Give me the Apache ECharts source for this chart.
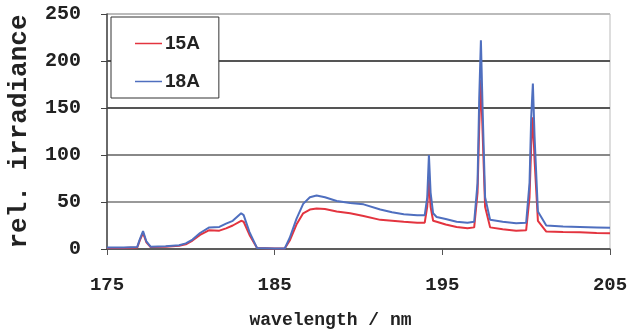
<!DOCTYPE html>
<html>
<head>
<meta charset="utf-8">
<script src="https://cdn.jsdelivr.net/npm/echarts@6/dist/echarts.min.js"></script>
<style>
  html, body { margin: 0; padding: 0; background: #fff; }
  #chart { width: 639px; height: 329px; }
</style>
</head>
<body>
<div id="chart"></div>
<script>
// wavelength (nm) sample points
const wavelength = [
  175.0, 176.0, 176.8, 176.95, 177.15, 177.35, 177.6, 178.5, 179.3, 179.7,
  180.1, 180.55, 181.1, 181.7, 182.1, 182.5, 183.0, 183.15, 183.5, 183.95,
  185.0, 185.6, 185.9, 186.3, 186.7, 187.1, 187.5, 188.0, 188.7, 189.5,
  190.3, 191.3, 192.0, 192.7, 193.5, 193.95, 194.1, 194.2, 194.3, 194.45,
  194.66, 195.2, 195.85, 196.5, 196.9, 197.1, 197.2, 197.3, 197.4, 197.55,
  197.85, 198.6, 199.4, 200.0, 200.2, 200.3, 200.4, 200.5, 200.7, 201.2,
  202.2, 203.2, 204.2, 205.0
];
const irr15A = [
  1, 1, 1.5, 9, 17, 7, 2, 2.5, 3.5, 5,
  9, 15, 20, 19.5, 22, 25, 30, 29, 15, 1,
  0.5, 0.5, 9, 26, 38, 42, 43, 42.5, 40, 38,
  35, 31, 30, 29, 28, 28, 45, 74, 45, 30,
  29, 26, 23.5, 22, 23, 60, 130, 180, 125, 45,
  23, 21, 19.5, 20, 55, 110, 140, 95, 30, 18.5,
  18, 17.8, 17, 16.8
];
const irr18A = [
  1.5, 1.5, 2, 10, 19, 8, 2.5, 3, 4, 6,
  10, 17, 23, 23.5, 27, 30, 38, 36, 18, 1,
  0.5, 0.5, 12, 32, 48, 55, 57, 55, 51, 49,
  47.5, 42, 39, 37, 36, 36, 55, 100, 60, 38,
  34, 32, 29, 28, 29, 70, 160, 222, 150, 55,
  31, 29, 27.5, 28, 70, 140, 176, 120, 40, 25,
  24, 23.5, 23, 22.5
];
const xTicks = [175, 185, 195, 205];
const seriesNames = ['15A', '18A'];

const monoFont = { fontFamily: 'Liberation Mono', fontWeight: 'bold', color: '#222' };

const myChart = echarts.init(document.getElementById('chart'));
const option = {
  animation: false,
  color: ['#e3343f', '#4f6fbf'],
  grid: {
    left: 107, right: 29, top: 14, bottom: 80,
    outerBoundsMode: 'none',
    show: true, borderColor: '#bbb', borderWidth: 1
  },
  legend: {
    orient: 'vertical',
    left: 111, top: 17,
    padding: [17, 19, 7, 24],
    itemGap: 19,
    itemWidth: 27, itemHeight: 14,
    // thin line icon; the move-to points keep the full box height
    icon: 'path://M0,0 M0,14 M0,6.25 L27,6.25 L27,7.75 L0,7.75 Z',
    backgroundColor: '#fff',
    borderColor: '#333', borderWidth: 1,
    textStyle: { fontFamily: 'Liberation Sans', fontWeight: 'bold', fontSize: 19, color: '#222', padding: [0, 0, 0, -2] },
    data: seriesNames
  },
  xAxis: {
    type: 'value',
    min: 175, max: 205,
    name: 'wavelength / nm',
    nameLocation: 'middle',
    nameGap: 62,
    nameTextStyle: Object.assign({ fontSize: 18, padding: [0, 56, 0, 0] }, monoFont),
    axisLine: { show: true, lineStyle: { color: '#555', width: 1.5 } },
    axisTick: { show: true, length: 6, customValues: xTicks, lineStyle: { color: '#555' } },
    axisLabel: Object.assign({ fontSize: 19, margin: 27, customValues: xTicks }, monoFont),
    splitLine: { show: false }
  },
  yAxis: {
    type: 'value',
    min: 0, max: 250, interval: 50,
    name: 'rel. irradiance',
    nameLocation: 'middle',
    nameGap: 75,
    nameRotate: 90,
    nameTextStyle: Object.assign({ fontSize: 26 }, monoFont),
    axisLine: { show: true, lineStyle: { color: '#444', width: 1.5 } },
    axisTick: { show: true, length: 6, lineStyle: { color: '#444' } },
    axisLabel: Object.assign({ fontSize: 20, margin: 26 }, monoFont),
    splitLine: {
      show: true,
      lineStyle: { width: 2, color: ['#777', '#999', '#888', '#555', '#555', '#bbb'] }
    }
  },
  series: [
    {
      name: seriesNames[0],
      type: 'line',
      symbol: 'none',
      lineStyle: { width: 2 },
      data: wavelength.map((w, i) => [w, irr15A[i]])
    },
    {
      name: seriesNames[1],
      type: 'line',
      symbol: 'none',
      lineStyle: { width: 2 },
      data: wavelength.map((w, i) => [w, irr18A[i]])
    }
  ]
};
myChart.setOption(option);
</script>
</body>
</html>
